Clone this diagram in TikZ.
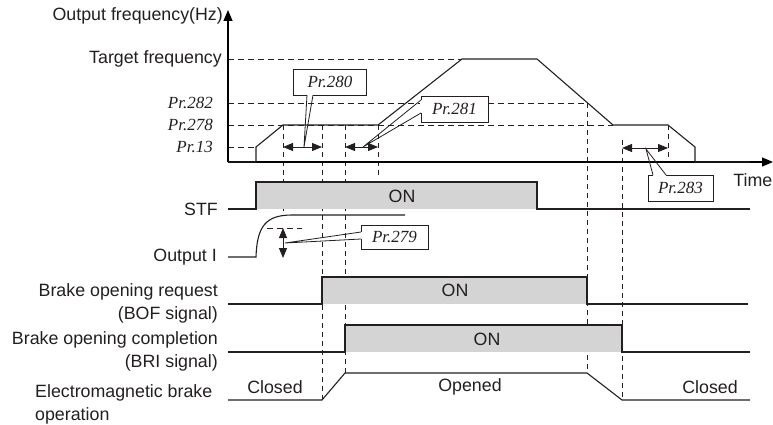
\documentclass[tikz,border=0pt]{standalone}
\usepackage{fontspec}
\setmainfont{Liberation Sans}
\newfontfamily\prfont{Liberation Serif}
\usetikzlibrary{arrows.meta,calc}
\definecolor{ink}{HTML}{231F20}
\definecolor{ongray}{HTML}{D4D4D5}
\tikzset{
  lbl/.style={font=\fontsize{17.8}{23}\selectfont, inner sep=0pt, text=ink},
  prlbl/.style={font=\fontsize{17}{20}\prfont\itshape, inner sep=0pt, text=ink},
  prbox/.style={draw=ink, line width=0.8pt, fill=white, font=\fontsize{17}{20}\prfont\itshape, inner sep=0pt, minimum width=68pt, minimum height=26pt, text=ink},
  wave/.style={draw=ink, line width=1.1pt},
  guide/.style={draw=ink, line width=0.8pt, dash pattern=on 6pt off 4pt},
  vguide/.style={draw=ink, line width=0.8pt, dash pattern=on 5pt off 4pt},
  axis/.style={draw=black, line width=1.2pt, -{Triangle[length=11pt,width=9pt]}},
  dim/.style={draw=ink, line width=1pt, {Triangle[length=10pt,width=8pt]}-{Triangle[length=10pt,width=8pt]}},
  ptr/.style={draw=ink, line width=0.8pt},
  gap/.style={draw=white, line width=1.6pt}
}
\begin{document}
\begin{tikzpicture}[x=1pt,y=-1pt]
\useasboundingbox (0,0) rectangle (773,425);
% ---------- guides ----------
\draw[guide] (228,59) -- (462,59);
\draw[guide] (228,103) -- (587,103);
\draw[guide] (228,125) -- (613,125);
\draw[guide] (228,147) -- (256,147);
\draw[vguide] (283,125) -- (283,213);
\draw[vguide] (322,125) -- (322,400);
\draw[vguide] (345,125) -- (345,373);
\draw[vguide] (378,125) -- (378,175);
\draw[vguide] (587,103) -- (587,373);
\draw[vguide] (622,140) -- (622,400);
\draw[vguide] (668,125) -- (668,162);
% ---------- signals fills ----------
\fill[ongray] (256,182) rectangle (537,209);
\fill[ongray] (322,277) rectangle (587,304);
\fill[ongray] (345,325) rectangle (622,352);
% ---------- axes ----------
\coordinate (O) at (228,162);
\coordinate (Ytop) at (228,10);
\coordinate (Xend) at (773,162);
\draw[axis] (O) -- (Ytop);
\draw[axis] (O) -- (Xend);
% ---------- frequency curve ----------
\draw[wave] (228,162) -- (256,162) -- (256,147) -- (283,125) -- (378,125) -- (462,59) -- (537,59)
  -- (613,125) -- (668,125) -- (695,147) -- (695,162) -- (750,162);
% ---------- STF ----------
\draw[wave] (228,209) -- (256,209) -- (256,182) -- (537,182) -- (537,209) -- (750,209);
% ---------- Output I ----------
\draw[wave] (228,257) -- (256,257) .. controls (257,226) and (266,215) .. (292,215) -- (405,215);
\draw[guide] (267,228) -- (302,228);
% ---------- BOF ----------
\draw[wave] (228,304) -- (322,304) -- (322,277) -- (587,277) -- (587,304) -- (748,304);
% ---------- BRI ----------
\draw[wave] (228,352) -- (345,352) -- (345,325) -- (622,325) -- (622,352) -- (750,352);
% ---------- brake ----------
\draw[wave] (228,400) -- (322,400) -- (345,373) -- (587,373) -- (622,400) -- (750,400);
% ---------- dimension arrows ----------
\coordinate (a280) at (283,147); \coordinate (b280) at (322,147);
\coordinate (a281) at (345,147); \coordinate (b281) at (378,147);
\coordinate (a283) at (622,148); \coordinate (b283) at (668,148);
\coordinate (a279) at (283,228); \coordinate (b279) at (283,258);
\draw[dim] (a280) -- (b280);
\draw[dim] (a281) -- (b281);
\draw[dim] (a283) -- (b283);
\draw[dim] (a279) -- (b279);
% ---------- callouts ----------
\node[prbox, minimum width=73pt] (p280) at (330,82) {Pr.280};
\coordinate (t280) at (304,147);
\draw[gap] (307,95) -- (313,95);
\draw[ptr] (307,95) -- (t280) -- (313,95);

\node[prbox, minimum width=67pt] (p281) at (454.5,109) {Pr.281};
\coordinate (t281) at (363,147);
\draw[gap] (421,100) -- (421,113);
\draw[ptr] (421,100) -- (t281) -- (421,113);

\node[prbox, minimum width=65pt] (p283) at (680.5,188) {Pr.283};
\coordinate (t283) at (646,149);
\draw[gap] (653,175) -- (666,175);
\draw[ptr] (653,175) -- (t283) -- (666,175);

\node[prbox, minimum width=67pt, minimum height=24pt] (p279) at (394.5,237) {Pr.279};
\coordinate (t279) at (285,243);
\draw[gap] (361,232) -- (361,239);
\draw[ptr] (361,232) -- (t279) -- (361,239);
% ---------- labels ----------
\node[lbl, anchor=east] (yl) at (223,16) {Output frequency(Hz)};
\node[lbl, anchor=east] (tf) at (222,59) {Target frequency};
\node[prlbl, anchor=east] (l282) at (213,103) {Pr.282};
\node[prlbl, anchor=east] (l278) at (213,125) {Pr.278};
\node[prlbl, anchor=east] (l13) at (213,147) {Pr.13};
\node[lbl, anchor=east] (time) at (772.5,180) {Time};
\node[lbl, anchor=east] (stf) at (218,209) {STF};
\node[lbl, anchor=east] (oi) at (217,257) {Output I};
\node[lbl, anchor=east, align=right] (bof) at (218,303.5) {Brake opening request\\(BOF signal)};
\node[lbl, anchor=east, align=right] (bri) at (218,351) {Brake opening completion\\(BRI signal)};
\node[lbl, anchor=west, align=left] (emb) at (35,404) {Electromagnetic brake\\operation};
\node[lbl] (on1) at (402,196) {ON};
\node[lbl] (on2) at (455,290) {ON};
\node[lbl] (on3) at (487,339) {ON};
\node[lbl] (cl1) at (275,387) {Closed};
\node[lbl] (op) at (470,387) {Opened};
\node[lbl] (cl2) at (710,387) {Closed};
\end{tikzpicture}
\end{document}
